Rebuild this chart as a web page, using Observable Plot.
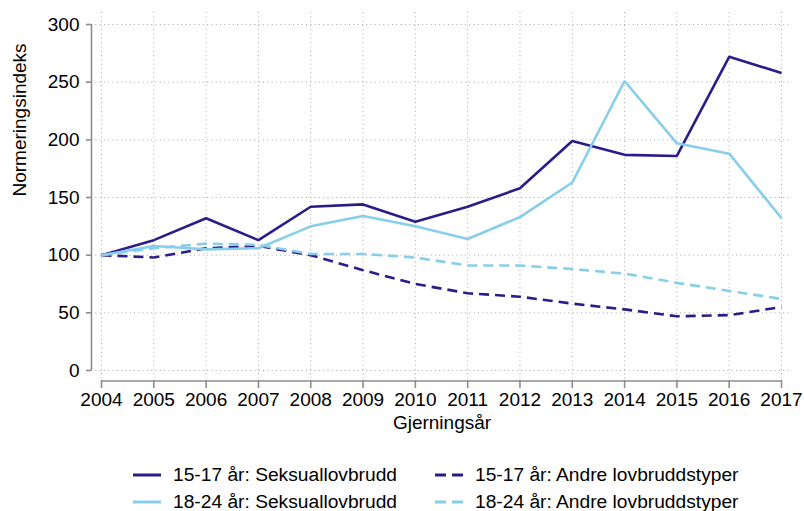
<!DOCTYPE html>
<html><head><meta charset="utf-8">
<script src="https://cdn.jsdelivr.net/npm/d3@7"></script>
<script src="https://cdn.jsdelivr.net/npm/@observablehq/plot@0.6"></script>
<style>
body{margin:0;background:#fff;font-family:"Liberation Sans",Arial,sans-serif;}
#chart svg{display:block}
.legend{position:relative;width:804px;height:66px;font-size:19.2px;color:#000}
.item{position:absolute;display:flex;align-items:center;height:28px;white-space:nowrap}
.item svg{margin-right:12px;display:block}
</style></head><body><div id="chart"></div><div class="legend" id="legend"></div>
<script>
const years = [2004,2005,2006,2007,2008,2009,2010,2011,2012,2013,2014,2015,2016,2017];
const yTicks = [0,50,100,150,200,250,300];
const seriesNames = ["15-17 år: Seksuallovbrudd","15-17 år: Andre lovbruddstyper","18-24 år: Seksuallovbrudd","18-24 år: Andre lovbruddstyper"];
const sex1517   = [100,113,132,113,142,144,129,142,158,199,187,186,272,258];
const other1517 = [100, 98,106,108,100, 87, 75, 67, 64, 58, 53, 47, 48, 55];
const sex1824   = [100,108,105,106,125,134,125,114,133,163,251,197,188,132];
const other1824 = [100,106,110,109,101,101, 98, 91, 91, 88, 84, 76, 69, 62];
const xLabel = "Gjerningsår";
const yLabel = "Normeringsindeks";

const dark = "#2b1d87", light = "#87ceeb";
const seriesStyle = [
  {values: sex1517, color: dark, dash: null},
  {values: other1517, color: dark, dash: "10,6"},
  {values: sex1824, color: light, dash: null},
  {values: other1824, color: light, dash: "10,6"}
];

const lineMarks = seriesStyle.map((s, k) =>
  Plot.line(years.map((y, i) => ({year: y, value: s.values[i]})), {
    x: "year", y: "value", stroke: s.color, strokeWidth: 2.6,
    strokeDasharray: s.dash, strokeLinejoin: "miter", strokeLinecap: "butt"
  })
);

const axisColor = "#8c8c8c";
const fs = 19;
const chart = Plot.plot({
  width: 804, height: 445,
  marginLeft: 91, marginRight: 12, marginTop: 12, marginBottom: 65,
  style: {fontFamily: "'Liberation Sans', Arial, sans-serif", fontSize: fs + "px", color: "#000", background: "#fff"},
  x: {domain: [years[0], years[years.length-1]], range: [101, 781]},
  y: {domain: [yTicks[0], yTicks[yTicks.length-1]], range: [370, 24]},
  marks: [
    Plot.gridY(yTicks, {stroke: "#a8a8a8", strokeOpacity: 1, strokeWidth: 1, strokeDasharray: "1,3.3"}),
    Plot.gridX(years, {stroke: "#a8a8a8", strokeOpacity: 1, strokeWidth: 1, strokeDasharray: "1,3.3"}),
    Plot.ruleX([years[0]], {y1: yTicks[0], y2: yTicks[yTicks.length-1], dx: -10, stroke: axisColor, strokeWidth: 1.6}),
    Plot.ruleY([yTicks[0]], {x1: years[0], x2: years[years.length-1], dy: 10.5, stroke: axisColor, strokeWidth: 1.6}),
    Plot.axisY(yTicks, {anchor: "left", tickSize: 5, tickPadding: 7, stroke: axisColor, strokeWidth: 1.6, fill: "#000", fontSize: fs, label: null, tickFormat: d => String(d)}),
    Plot.axisX(years, {anchor: "bottom", tickSize: 8, tickPadding: 4, stroke: axisColor, strokeWidth: 1.6, fill: "#000", fontSize: fs, label: null, tickFormat: d => String(d)}),
    ...lineMarks,
    Plot.text([yLabel], {frameAnchor: "left", rotate: -90, dx: -72, fill: "#000", fontSize: fs}),
    Plot.text([xLabel], {frameAnchor: "bottom", dy: 48, fill: "#000", fontSize: fs})
  ]
});
document.getElementById("chart").appendChild(chart);

// legend
const legend = document.getElementById("legend");
const slots = [{left: 133, top: 15.5}, {left: 435, top: 15.5}, {left: 133, top: 43}, {left: 435, top: 43}];
seriesNames.forEach((name, k) => {
  const s = seriesStyle[k];
  const item = document.createElement("div");
  item.className = "item";
  item.style.left = slots[k].left + "px";
  item.style.top = slots[k].top + "px";
  const ns = "http://www.w3.org/2000/svg";
  const sv = document.createElementNS(ns, "svg");
  sv.setAttribute("width", 28); sv.setAttribute("height", 6);
  const ln = document.createElementNS(ns, "line");
  ln.setAttribute("x1", 0); ln.setAttribute("x2", 28); ln.setAttribute("y1", 3); ln.setAttribute("y2", 3);
  ln.setAttribute("stroke", s.color); ln.setAttribute("stroke-width", 3);
  if (s.dash) ln.setAttribute("stroke-dasharray", "11,6");
  sv.appendChild(ln);
  item.appendChild(sv);
  const t = document.createElement("span");
  t.textContent = name;
  item.appendChild(t);
  legend.appendChild(item);
});
</script></body></html>
